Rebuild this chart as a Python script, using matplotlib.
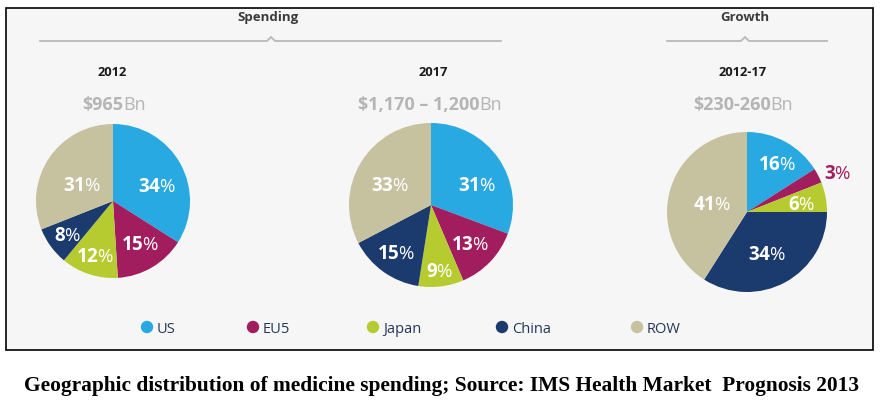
import numpy as np
import matplotlib
matplotlib.use("Agg")
import matplotlib.pyplot as plt
from matplotlib.patches import Rectangle
from matplotlib.offsetbox import TextArea, HPacker, AnnotationBbox

# ---------------- data ----------------
regions = ["US", "EU5", "Japan", "China", "ROW"]
colors = ["#29a9e1", "#a21d5d", "#b6cb2f", "#1b3a6e", "#c6c19f"]
share_2012 = [34, 15, 12, 8, 31]
share_2017 = [31, 13, 9, 15, 33]
share_growth = [16, 3, 6, 34, 41]
pie_years = ["2012", "2017", "2012-17"]
pie_values = ["$965", "$1,170 \u2013 1,200", "$230-260"]
value_unit = "Bn"
sections = ["Spending", "Growth"]
caption = "Geographic distribution of medicine spending; Source: IMS Health Market  Prognosis 2013"

# ---------------- layout (pixels) ----------------
W, H = 886, 418
FONT = "Open Sans"
plt.rcParams["mathtext.fontset"] = "custom"
plt.rcParams["mathtext.bf"] = "Open Sans:bold"
plt.rcParams["mathtext.rm"] = "Open Sans"

pies = [
    dict(values=share_2012, cx=113, cy=201, r=77,
         dist=[0.60, 0.67, 0.76, 0.74, 0.45], dang=[-11, 1, 0, 2, 8],
         outside=[False] * 5),
    dict(values=share_2017, cx=431, cy=205, r=82,
         dist=[0.61, 0.68, 0.82, 0.73, 0.55], dang=[-12, -2, 0, 0, 6],
         outside=[False] * 5),
    dict(values=share_growth, cx=747, cy=212, r=80,
         dist=[0.70, 1.23, 0.69, 0.59, 0.45], dang=[-4, -4, -4, -4, 5],
         outside=[False, True, False, False, False]),
]
year_x = [112, 433, 743]
value_x = [114, 430, 743]
leg_x = [147, 253, 373, 502, 637]

fig = plt.figure(figsize=(W / 100, H / 100), dpi=100)
fig.patch.set_facecolor("white")

bg = fig.add_axes([0, 0, 1, 1])
bg.set_xlim(0, W)
bg.set_ylim(H, 0)
bg.axis("off")

bg.add_patch(Rectangle((6, 8), 867, 342, facecolor="#f7f6f7",
                       edgecolor="black", linewidth=1.2, zorder=0))

# section headers with caret lines
sec_layout = [(268, 40, 501, 271), (745, 667, 827, 745)]
for name, (tx, x0, x1, cxr) in zip(sections, sec_layout):
    bg.text(tx, 21, name, ha="center", va="baseline", fontsize=9.5,
            fontweight="bold", color="#3a3a3a", family=FONT)
    ly = 41
    bg.plot([x0, cxr - 4, cxr, cxr + 4, x1], [ly, ly, ly - 4, ly, ly],
            color="#b9b9b9", linewidth=1.3, solid_joinstyle="miter")

# years and values
for yx, vx, yr, val in zip(year_x, value_x, pie_years, pie_values):
    bg.text(yx, 76, yr, ha="center", va="baseline", fontsize=9.3,
            fontweight="bold", color="#1a1a1a", family=FONT)
    box = HPacker(children=[
        TextArea(val, textprops=dict(fontsize=13, fontweight="bold",
                                     color="#b5b5b5", family=FONT)),
        TextArea(value_unit, textprops=dict(fontsize=13, fontweight="normal",
                                            color="#b5b5b5", family=FONT)),
    ], pad=0, sep=0, align="baseline")
    ab = AnnotationBbox(box, (vx, 105), xycoords="data", frameon=False,
                        box_alignment=(0.5, 0.5), pad=0)
    bg.add_artist(ab)

# legend
for lx, name, c in zip(leg_x, regions, colors):
    bg.scatter([lx], [327], s=80, color=c, edgecolors="none")
    bg.text(lx + 10, 333, name, ha="left", va="baseline", fontsize=10.5,
            color="#24365a", family=FONT)

# caption, fitted to width
cap = bg.text(W / 2 - 1, 391, caption, ha="center", va="baseline",
              fontsize=14, fontweight="bold", color="black",
              family="Liberation Serif")
fig.canvas.draw()
bb = cap.get_window_extent()
cap.set_fontsize(14 * 836 / bb.width)

# pies
for p in pies:
    cx, cy, r = p["cx"], p["cy"], p["r"]
    ax = fig.add_axes([(cx - r) / W, (H - cy - r) / H, 2 * r / W, 2 * r / H])
    wedges, _ = ax.pie(p["values"], colors=colors, startangle=90,
                       counterclock=False, radius=1,
                       wedgeprops=dict(linewidth=0))
    ax.set_xlim(-1, 1)
    ax.set_ylim(-1, 1)
    ax.set_aspect("equal")
    ax.axis("off")
    for w, v, d, da, out, c in zip(wedges, p["values"], p["dist"], p["dang"],
                                   p["outside"], colors):
        mid = np.deg2rad((w.theta1 + w.theta2) / 2 + da)
        x, y = d * np.cos(mid), d * np.sin(mid)
        tc = c if out else "white"
        ax.text(x, y, r"$\mathbf{%d}$%%" % v, ha="center", va="center",
                fontsize=13.5, color=tc, family=FONT, clip_on=False)

fig.savefig("out.png", dpi=100, facecolor="white")
